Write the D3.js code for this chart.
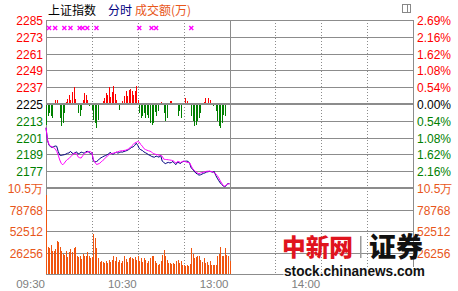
<!DOCTYPE html>
<html><head><meta charset="utf-8">
<script src="https://cdn.jsdelivr.net/npm/d3@7/dist/d3.min.js"></script>
<style>body{margin:0;background:#fff}svg{display:block}</style>
</head><body>
<svg id="c" width="458" height="291"></svg>
<script>
// ---- data (one value per trading minute from 09:30) ----
const priceData = [2208,2199,2195.5,2194.5,2194,2194.5,2195,2194.8,2191,2188.5,
2188.3,2188.6,2188.8,2189.2,2189.8,2190,2191.2,2190,2189.5,2190.2,
2190.8,2189.3,2189.8,2190.6,2190.3,2189.8,2190.9,2191.2,2190.6,2189.6,
2190.4,2184.2,2183.6,2183.9,2184.6,2185.9,2186.6,2187.2,2187.8,2188.2,
2188.8,2189.3,2190.6,2189.4,2189.2,2190,2190.6,2189.9,2190.3,2190.8,
2190.6,2191.1,2191.4,2191.8,2192.4,2193.2,2194,2194.4,2195.4,2197,
2195.5,2193.2,2192.3,2191.8,2190.8,2190.2,2189.6,2188.8,2188.3,2187.6,
2187.2,2187,2187.8,2187.4,2187,2188.3,2184.2,2183.3,2182.4,2182.9,
2183.3,2182.9,2183.2,2184,2182.6,2181.7,2183.4,2183,2182.5,2183.6,
2184,2184.1,2184.2,2184,2182.4,2179.2,2178.4,2176.9,2175.6,2175,
2174.2,2174.4,2174.9,2175.5,2175.8,2176.4,2176.6,2176.9,2176.6,2176.3,
2176.8,2174,2172,2170.2,2168.6,2167.4,2166.4,2165.8,2167.2,2168.2,2168];
const avgData = [2208,2199.5,2196,2195,2194.5,2193.8,2193,2191.2,2188.5,2185,
2182.5,2181.6,2182.8,2184.3,2185.4,2186,2187.2,2188.4,2189.4,2190,
2189.4,2187.2,2186.6,2186.4,2188,2189.3,2190.2,2190.6,2191,2191,
2190.2,2185.2,2183.5,2181.8,2182.1,2182.6,2183.5,2184.6,2185.4,2186.8,
2187.6,2188.6,2189.3,2189.6,2189.9,2190.2,2190.5,2190.9,2191.3,2191.5,
2191.6,2191.8,2192,2192.4,2193,2193.8,2195,2196,2197.2,2197.6,
2198.2,2197.8,2196,2194.9,2193.2,2192.5,2192,2191.6,2191.3,2190.8,
2189.6,2189.4,2188.9,2188.8,2188.4,2188.2,2187.7,2185.6,2185.4,2185.3,
2185.2,2185,2184.8,2184.5,2183.8,2182.7,2184,2183.7,2183.2,2183.8,
2184.2,2183.9,2183.4,2183.2,2182.9,2180.6,2178.7,2177.6,2176.6,2175.8,
2175.2,2175.7,2176,2176.3,2176.5,2176.9,2177,2177,2176.8,2176.6,
2175.9,2175.1,2173.8,2172.2,2170,2168.4,2166.6,2166.2,2167.4,2167.9,2168.1];
const forceData = [-14.8,-8.8,-6.4,-8.8,-10,0,2.6,3,1,-10,
-16,-13.6,-6.4,1.2,3.6,6.7,3,8.3,12.1,3.6,
0,-6.4,-8.8,-4,2.6,7.9,6.7,3.1,-1.5,0,
-4,-11.2,-13.6,-17,-11.2,1,-1,2,4.3,7.9,
6.7,12.1,5,8.3,12.6,7.4,3.1,-1,-4,-1,
2,5.5,9,6,10.2,10.7,9,6.7,9,13.1,
3,-6.4,-10,-8.8,-6.4,-10,-7.6,-10,-13.6,-14.8,
-13.6,-6,-8.8,-5.2,0,1.2,-0.5,-6.4,-12.4,-10,
0.7,2,2,0.7,0.7,0,-8.8,-5.2,-10,0,
0,4.3,2,0,0,-8.8,-12.4,-16,-14.8,-12.4,
-10,-6.4,0,1.2,4.3,0,4.3,2.6,0.3,-1.2,
0.3,-5.2,-12.4,-16,-17,-13.6,-7.6,-8.8,0,0.5,0];
const volumeData = [96600,33400,31800,35900,28500,28500,30600,40900,39600,33400,
28500,24400,23100,28500,21000,26400,30600,26400,31800,32600,
22300,20200,22300,18200,24400,22300,21500,26400,21500,19000,
21000,48300,43800,31800,19000,14900,16100,14900,14000,15700,
13200,17300,14900,17300,22300,15700,20200,14900,17300,13200,
15700,22300,18200,14900,19800,20600,19800,18200,20600,17300,
22300,16100,19000,14900,19000,17300,14000,15700,19000,21500,
22300,16100,13200,11600,12400,16100,23100,29700,21500,17300,
13200,14000,12400,13200,12400,16100,17300,13200,15700,10700,
11600,9900,11600,9900,12000,31400,24400,19000,20600,22300,
21500,17300,14900,19800,13200,14900,11600,15700,11600,10700,
11600,10700,22300,24000,33400,22300,22300,31800,23100,21500,16100];
const markerMinutes = [2,6,12,16,22,24,27,33,61,69,72,95];
const priceTicks = [2285,2273,2261,2249,2237,2225,2213,2201,2189,2177];
const pctLabels = ["2.69%","2.16%","1.62%","1.08%","0.54%","0.00%","0.54%","1.08%","1.62%","2.16%"];
const volTicks = [105024,78768,52512,26256];
const volLabels = ["10.5万","78768","52512","26256"];
const timeTicks = [0,60,120,180];
const timeLabels = ["09:30","10:30","13:00","14:00"];
const gridMinutes = [0,30,60,90,120,150,180,210,240];
const basePrice = 2225;

// ---- scales ----
const svg = d3.select("#c");
const x = d3.scaleLinear().domain([0,240]).range([46,413]);
const yP = d3.scaleLinear().domain([2165,2285]).range([188,20]);
const yF = d3.scaleLinear().domain([-60,60]).range([188,20]);
const yV = d3.scaleLinear().domain([0,105024]).range([274,188]);

const GRID = "#8c8c8c";
const ORANGE = "#e8561a";
const FONT = "'Liberation Sans', Arial, sans-serif";
const CJK = "'Noto Sans CJK SC', sans-serif";

// ---- title ----
const title = svg.append("g").attr("font-family", CJK).attr("font-size", 12);
title.append("text").attr("x",48).attr("y",15).attr("fill","#000").text("上证指数");
title.append("text").attr("x",108).attr("y",15).attr("fill","#000080").text("分时");
title.append("text").attr("x",135).attr("y",15).attr("fill",ORANGE).text("成交额(万)");

// icon
svg.append("rect").attr("x",402.5).attr("y",4.5).attr("width",8).attr("height",8)
  .attr("fill","none").attr("stroke","#888");
svg.append("line").attr("x1",407.5).attr("x2",407.5).attr("y1",4.5).attr("y2",12.5).attr("stroke","#888");

// ---- grid ----
const grid = svg.append("g").attr("shape-rendering","crispEdges");
priceTicks.forEach(t => {
  if (t === basePrice) return;
  grid.append("line").attr("x1",46).attr("x2",413)
    .attr("y1",Math.round(yP(t))+0.5).attr("y2",Math.round(yP(t))+0.5).attr("stroke",GRID);
});
volTicks.slice(1).concat([0]).forEach(t => {
  grid.append("line").attr("x1",46).attr("x2",413)
    .attr("y1",Math.round(yV(t))+0.5).attr("y2",Math.round(yV(t))+0.5).attr("stroke",GRID);
});
gridMinutes.forEach(m => {
  const solid = (m === 0 || m === 120 || m === 240);
  grid.append("line").attr("x1",Math.round(x(m))+0.5).attr("x2",Math.round(x(m))+0.5)
    .attr("y1",20).attr("y2",274).attr("stroke",GRID)
    .attr("stroke-dasharray", solid ? null : "1,2");
});

// ---- red / green strength bars ----
const fb = svg.append("g").attr("shape-rendering","crispEdges");
forceData.forEach((v,i) => {
  if (v === 0) return;
  const y0 = yF(0), y1 = yF(v);
  fb.append("rect").attr("x",Math.round(x(i))).attr("width",1)
    .attr("y",Math.min(y0,y1)).attr("height",Math.abs(y1-y0))
    .attr("fill", v > 0 ? "#ff0000" : "#008000");
});

// ---- volume bars ----
const vb = svg.append("g").attr("shape-rendering","crispEdges");
volumeData.forEach((v,i) => {
  vb.append("rect").attr("x",Math.round(x(i))).attr("width",1)
    .attr("y",yV(v)).attr("height",yV(0)-yV(v)).attr("fill","#f0550f");
});

// thick lines
svg.append("line").attr("x1",46).attr("x2",413).attr("y1",yP(basePrice)).attr("y2",yP(basePrice))
  .attr("stroke",GRID).attr("stroke-width",2);
svg.append("line").attr("x1",46).attr("x2",413).attr("y1",188).attr("y2",188)
  .attr("stroke",GRID).attr("stroke-width",2);

// ---- price lines ----
const line = d3.line().x((d,i)=>x(i)).y(d=>yP(d));
svg.append("path").datum(priceData).attr("d",line).attr("fill","none").attr("stroke","#000080").attr("stroke-width",1);
svg.append("path").datum(avgData).attr("d",line).attr("fill","none").attr("stroke","#ff00ff").attr("stroke-width",1);

// markers
const mk = svg.append("g").attr("stroke","#ff00ff").attr("stroke-width",1.4);
markerMinutes.forEach(m => {
  const cx = x(m), cy = 28;
  mk.append("path").attr("d",`M${cx-2},${cy-2}L${cx+2},${cy+2}M${cx+2},${cy-2}L${cx-2},${cy+2}`);
});

// ---- axis labels ----
const lab = svg.append("g").attr("font-family",FONT).attr("font-size",12);
priceTicks.forEach((t,k) => {
  const col = t > basePrice ? "#ff0000" : (t === basePrice ? "#000" : "#008000");
  const yy = yP(t) + 5;
  lab.append("text").attr("x",43).attr("y",yy).attr("text-anchor","end").attr("fill",col).text(t);
  lab.append("text").attr("x",417).attr("y",yy).attr("fill",col).text(pctLabels[k]);
});
volTicks.forEach((t,k) => {
  const yy = yV(t) + 5;
  lab.append("text").attr("x",43).attr("y",yy).attr("text-anchor","end").attr("fill",ORANGE).text(volLabels[k]);
  lab.append("text").attr("x",417).attr("y",yy).attr("fill",ORANGE).text(volLabels[k]);
});
timeTicks.forEach((m,k) => {
  lab.append("text").attr("x",x(m)-1).attr("y",288).attr("text-anchor","end")
    .attr("fill","#808080").attr("font-size",11.5).text(timeLabels[k]);
});

// ---- watermark ----
const wm = svg.append("g");
wm.append("text").attr("x",282).attr("y",256).attr("font-family",CJK).attr("font-size",24)
  .attr("font-weight",900).attr("fill","#e0141e").attr("textLength",71).attr("lengthAdjust","spacingAndGlyphs")
  .text("中新网");
wm.append("rect").attr("x",360).attr("y",236).attr("width",1.5).attr("height",22).attr("fill","#999");
wm.append("text").attr("x",369).attr("y",257).attr("font-family",CJK).attr("font-size",27)
  .attr("font-weight",900).attr("fill","#111").attr("textLength",54).attr("lengthAdjust","spacingAndGlyphs")
  .text("证券");
wm.append("text").attr("x",284).attr("y",276).attr("font-family",FONT).attr("font-size",14)
  .attr("font-weight","bold").attr("fill","#111").attr("textLength",141).attr("lengthAdjust","spacingAndGlyphs")
  .attr("stroke","#fff").attr("stroke-width",2).attr("paint-order","stroke")
  .text("stock.chinanews.com");
</script>
</body></html>
